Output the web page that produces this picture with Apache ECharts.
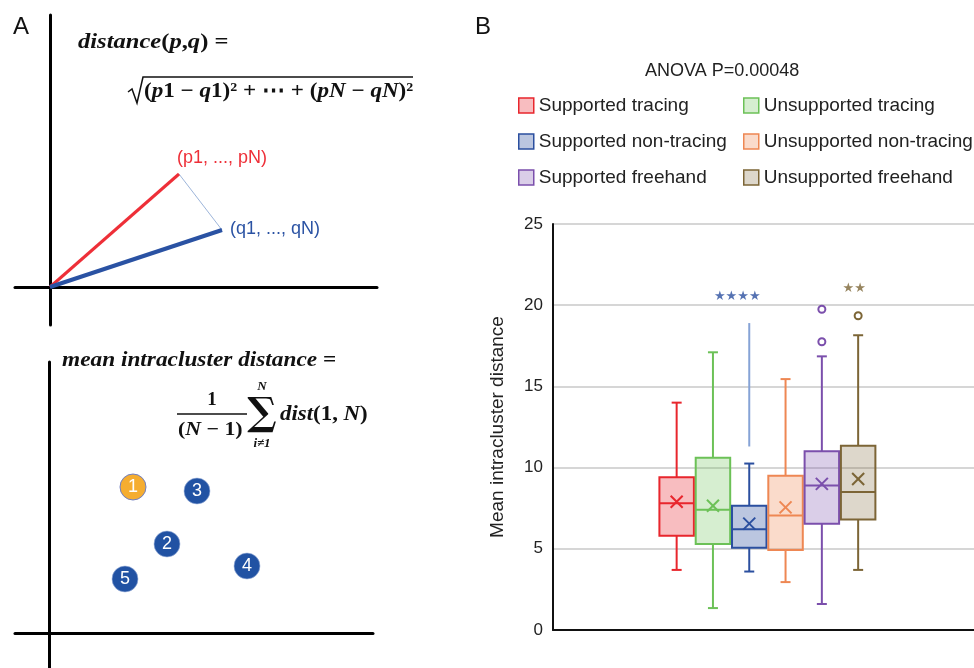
<!DOCTYPE html>
<html>
<head>
<meta charset="utf-8">
<script src="https://cdn.jsdelivr.net/npm/echarts@6/dist/echarts.min.js"></script>
<style>
html, body { margin: 0; padding: 0; background: #fff; }
#chart { width: 974px; height: 668px; }
</style>
</head>
<body>
<div id="chart"></div>
<script>
// ---- panel B data ----
const groups = ['Supported tracing', 'Unsupported tracing', 'Supported non-tracing',
    'Unsupported non-tracing', 'Supported freehand', 'Unsupported freehand'];
const lineColors = ['#e8262d', '#6cc157', '#2b4f9f', '#ee8753', '#7b4fac', '#7c6536'];
const fillColors = ['rgba(232,38,45,0.3)', 'rgba(108,193,87,0.28)', 'rgba(43,79,159,0.32)',
    'rgba(238,135,83,0.3)', 'rgba(123,79,172,0.28)', 'rgba(124,101,54,0.26)'];
// [low whisker, Q1, median, Q3, high whisker]
const boxStats = [
    [3.7, 5.8, 7.8, 9.4, 14.0],
    [1.35, 5.3, 7.4, 10.6, 17.1],
    [3.6, 5.07, 6.2, 7.65, 10.25],
    [2.95, 4.93, 7.05, 9.5, 15.45],
    [1.6, 6.55, 8.9, 11.0, 16.85],
    [3.7, 6.8, 8.5, 11.35, 18.15]
];
const means = [7.9, 7.65, 6.55, 7.55, 9.0, 9.3];
const outliers = [[4, 19.75], [4, 17.75], [5, 19.35]];
const sigMarks = [[2, 20.5, '★★★★'], [5, 21.05, '★★']];
const extraLine = [[2, 11.3], [2, 18.9]];
const yMin = 0, yMax = 25, yStep = 5;

// ---- panel A data ----
const vecP = [129, 113];
const vecQ = [172, 57];
const clusterPts = [[84, 146, '1'], [148, 142, '3'], [118, 89, '2'], [198, 67, '4'], [76, 54, '5']];

const sans = '"Liberation Sans", Arial, sans-serif';
const serif = '"Liberation Serif", serif';

let myChart = echarts.init(document.getElementById('chart'));

function renderBox(params, api) {
    let k = api.value(0);
    let c = lineColors[k];
    let xc = api.coord([k, 0])[0];
    let half = api.size([1, 0])[0] * 0.95 / 2;
    let cap = 5;
    let y = [1, 2, 3, 4, 5, 6].map(function (d) { return api.coord([k, api.value(d)])[1]; });
    let ls = { stroke: c, lineWidth: 2, fill: null };
    let m = 6;
    return {
        type: 'group',
        children: [
            { type: 'line', shape: { x1: xc, y1: y[4], x2: xc, y2: y[3] }, style: ls },
            { type: 'line', shape: { x1: xc, y1: y[1], x2: xc, y2: y[0] }, style: ls },
            { type: 'line', shape: { x1: xc - cap, y1: y[4], x2: xc + cap, y2: y[4] }, style: ls },
            { type: 'line', shape: { x1: xc - cap, y1: y[0], x2: xc + cap, y2: y[0] }, style: ls },
            { type: 'rect', shape: { x: xc - half, y: y[3], width: half * 2, height: y[1] - y[3] },
              style: { fill: fillColors[k], stroke: c, lineWidth: 2 } },
            { type: 'line', shape: { x1: xc - half, y1: y[2], x2: xc + half, y2: y[2] }, style: ls },
            { type: 'line', shape: { x1: xc - m, y1: y[5] - m, x2: xc + m, y2: y[5] + m }, style: ls },
            { type: 'line', shape: { x1: xc - m, y1: y[5] + m, x2: xc + m, y2: y[5] - m }, style: ls }
        ]
    };
}

let boxSeries = groups.map(function (name, i) {
    return {
        name: name,
        type: 'custom',
        xAxisIndex: 1,
        yAxisIndex: 1,
        renderItem: renderBox,
        encode: { x: 0, y: [1, 2, 3, 4, 5, 6] },
        data: [[i].concat(boxStats[i], [means[i]])],
        z: 3
    };
});

function legendItem(name) {
    let i = groups.indexOf(name);
    return {
        name: name,
        icon: 'rect',
        itemStyle: { color: fillColors[i], borderColor: lineColors[i], borderWidth: 1.5 }
    };
}

let legendBase = {
    orient: 'vertical',
    padding: 0,
    itemWidth: 15,
    itemHeight: 15,
    itemGap: 17,
    selectedMode: false,
    textStyle: { fontFamily: sans, fontSize: 19, color: '#222' }
};

// math text styles: upright digits, italic variables
const mathRich = {
    n: { font: 'bold 21px ' + serif, fill: '#111' },
    i: { font: 'italic bold 21px ' + serif, fill: '#111' },
    sn: { font: 'bold 19px ' + serif, fill: '#111' },
    si: { font: 'italic bold 19px ' + serif, fill: '#111' }
};

let option = {
    animation: false,
    backgroundColor: '#fff',
    title: [
        { text: 'A', left: 8, top: 10, textStyle: { fontFamily: sans, fontSize: 24, fontWeight: 'normal', color: '#111' } },
        { text: 'B', left: 470, top: 10, textStyle: { fontFamily: sans, fontSize: 24, fontWeight: 'normal', color: '#111' } },
        { text: 'ANOVA P=0.00048', left: 640, top: 57, textStyle: { fontFamily: sans, fontSize: 18, fontWeight: 'normal', color: '#222' } }
    ],
    legend: [
        Object.assign({ left: 518, top: 96, data: [groups[0], groups[2], groups[4]].map(legendItem) }, legendBase),
        Object.assign({ left: 743, top: 96, data: [groups[1], groups[3], groups[5]].map(legendItem) }, legendBase)
    ],
    grid: [
        { left: 553, right: 0, top: 224, bottom: 38 },
        { left: 658.5, width: 217.8, top: 224, bottom: 38 },
        { left: 15, right: 597, top: 15, bottom: 343 },
        { left: 15, right: 601, top: 362, bottom: 0 }
    ],
    xAxis: [
        { type: 'category', gridIndex: 0, data: [''],
          axisLine: { lineStyle: { color: '#111', width: 2 } },
          axisTick: { show: false }, axisLabel: { show: false } },
        { type: 'category', gridIndex: 1, data: groups, show: false },
        { type: 'value', gridIndex: 2, min: -35, max: 327, axisLine: { onZero: true, lineStyle: { color: '#000', width: 3 } },
          axisTick: { show: false }, axisLabel: { show: false }, splitLine: { show: false } },
        { type: 'value', gridIndex: 3, min: -34, max: 324, axisLine: { onZero: true, lineStyle: { color: '#000', width: 3 } },
          axisTick: { show: false }, axisLabel: { show: false }, splitLine: { show: false } }
    ],
    yAxis: [
        { type: 'value', gridIndex: 0, min: yMin, max: yMax, interval: yStep,
          name: 'Mean intracluster distance', nameLocation: 'middle', nameGap: 46,
          nameTextStyle: { fontFamily: sans, fontSize: 19, color: '#222' },
          axisLine: { show: true, lineStyle: { color: '#111', width: 2 } },
          axisTick: { show: false },
          axisLabel: { fontFamily: sans, fontSize: 17, color: '#222', margin: 10 },
          splitLine: { lineStyle: { color: '#d6d6d6', width: 2 } } },
        { type: 'value', gridIndex: 1, min: yMin, max: yMax, show: false, splitLine: { show: false } },
        { type: 'value', gridIndex: 2, min: -38, max: 272, axisLine: { onZero: true, lineStyle: { color: '#000', width: 3 } },
          axisTick: { show: false }, axisLabel: { show: false }, splitLine: { show: false } },
        { type: 'value', gridIndex: 3, min: -35, max: 271, axisLine: { onZero: true, lineStyle: { color: '#000', width: 3 } },
          axisTick: { show: false }, axisLabel: { show: false }, splitLine: { show: false } }
    ],
    series: boxSeries.concat([
        {
            type: 'line', xAxisIndex: 1, yAxisIndex: 1, data: extraLine, symbol: 'none',
            lineStyle: { color: '#86a3d6', width: 2 }, z: 2
        },
        {
            type: 'scatter', xAxisIndex: 1, yAxisIndex: 1, symbol: 'emptyCircle', symbolSize: 7,
            data: outliers.map(function (o) {
                return { value: o, itemStyle: { color: lineColors[o[0]], borderWidth: 2, opacity: 1 } };
            }),
            z: 4
        },
        {
            type: 'scatter', xAxisIndex: 1, yAxisIndex: 1, symbolSize: 0,
            data: sigMarks.map(function (s) {
                return {
                    value: [s[0], s[1]],
                    label: {
                        show: true, position: 'inside', formatter: s[2],
                        offset: [s[0] === 2 ? -12 : -4, 0],
                        fontFamily: '"DejaVu Sans", sans-serif', fontSize: 13, color: lineColors[s[0]]
                    }
                };
            })
        },
        // panel A, top: two vectors and the distance between them
        {
            type: 'line', xAxisIndex: 2, yAxisIndex: 2, data: [vecP, vecQ], symbol: 'none',
            lineStyle: { color: '#9db5da', width: 1 }
        },
        {
            type: 'line', xAxisIndex: 2, yAxisIndex: 2, data: [[0, 0], vecP], symbol: 'none',
            lineStyle: { color: '#ee2f38', width: 3 }
        },
        {
            type: 'line', xAxisIndex: 2, yAxisIndex: 2, data: [[0, 0], vecQ], symbol: 'none',
            lineStyle: { color: '#2a52a3', width: 4 }
        },
        {
            type: 'scatter', xAxisIndex: 2, yAxisIndex: 2, symbolSize: 0,
            itemStyle: { opacity: 1 },
            data: [
                { value: vecP, label: { show: true, formatter: '(p1, ..., pN)', position: 'right', offset: [-7, -16], color: '#ee2f38' } },
                { value: vecQ, label: { show: true, formatter: '(q1, ..., qN)', position: 'right', offset: [3, -1], color: '#2a52a3' } }
            ],
            label: { fontFamily: sans, fontSize: 18 }
        },
        // panel A, bottom: cluster points
        {
            type: 'scatter', xAxisIndex: 3, yAxisIndex: 3, symbolSize: 26,
            data: clusterPts.map(function (p) {
                let first = p[2] === '1';
                return {
                    value: [p[0], p[1]],
                    name: p[2],
                    itemStyle: first
                        ? { color: '#f5ad30', borderColor: '#6f7fc4', borderWidth: 1, opacity: 1 }
                        : { color: '#2152a3', borderColor: '#9fb3dc', borderWidth: 0.6, opacity: 1 }
                };
            }),
            label: { show: true, position: 'inside', formatter: '{b}', color: '#fff', fontFamily: sans, fontSize: 18 }
        }
    ]),
    graphic: [
        { type: 'text', x: 78, y: 43, scaleX: 1.17,
          style: { text: '{i|distance}{n|(}{i|p}{n|,}{i|q}{n|) =}', rich: mathRich, verticalAlign: 'middle' } },
        { type: 'polyline', shape: { points: [[128, 92], [132, 89], [137, 103], [143, 77], [413, 77]] },
          style: { stroke: '#111', lineWidth: 1.5, fill: null } },
        { type: 'text', x: 144, y: 92, scaleX: 1.1,
          style: { text: '{n|(}{i|p}{n|1 − }{i|q}{n|1)² + ⋯ + (}{i|pN}{n| − }{i|qN}{n|)²}', rich: mathRich, verticalAlign: 'middle' } },
        { type: 'text', x: 62, y: 361, scaleX: 1.11,
          style: { text: '{i|mean intracluster distance}{n| =}', rich: mathRich, verticalAlign: 'middle' } },
        { type: 'text', x: 212, y: 400,
          style: { text: '{sn|1}', rich: mathRich, align: 'center', verticalAlign: 'middle' } },
        { type: 'line', shape: { x1: 177, y1: 414, x2: 247, y2: 414 }, style: { stroke: '#111', lineWidth: 1.5 } },
        { type: 'text', x: 178, y: 430, scaleX: 1.15,
          style: { text: '{sn|(}{si|N}{sn| − 1)}', rich: mathRich, verticalAlign: 'middle' } },
        { type: 'text', x: 262, y: 415, style: { text: '∑', font: 'bold 39px "DejaVu Serif", serif', fill: '#111', align: 'center', verticalAlign: 'middle' } },
        { type: 'text', x: 262, y: 387, style: { text: 'N', font: 'italic bold 13px ' + serif, fill: '#111', align: 'center', verticalAlign: 'middle' } },
        { type: 'text', x: 262, y: 444, style: { text: 'i≠1', font: 'italic bold 13px ' + serif, fill: '#111', align: 'center', verticalAlign: 'middle' } },
        { type: 'text', x: 280, y: 415, scaleX: 1.09,
          style: { text: '{i|dist}{n|(1, }{i|N}{n|)}', rich: mathRich, verticalAlign: 'middle' } }
    ]
};

myChart.setOption(option);
window.addEventListener('resize', function () {
    myChart.resize();
});
</script>
</body>
</html>
